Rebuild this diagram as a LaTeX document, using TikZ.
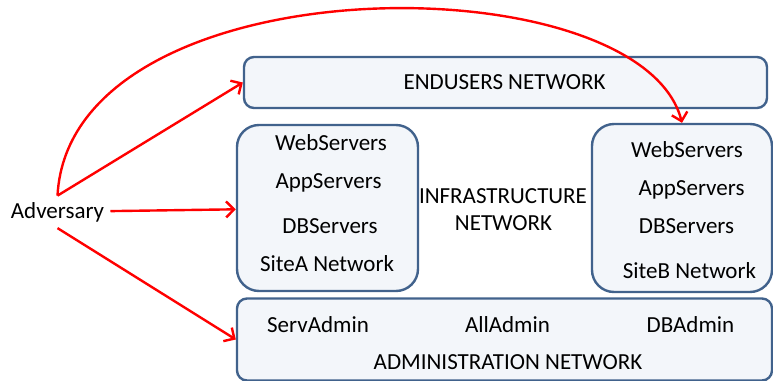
\documentclass[tikz,border=0pt]{standalone}
\usepackage{fontspec}
\setmainfont{Carlito}
\usetikzlibrary{arrows.meta}
\definecolor{netborder}{RGB}{65,98,140}
\definecolor{netfill}{RGB}{243,246,250}
\definecolor{attack}{RGB}{255,0,0}
\begin{document}
\begin{tikzpicture}[x=0.5pt, y=-0.5pt, >={Straight Barb[length=4pt,width=8pt]},
    net/.style = {draw=netborder, fill=netfill, line width=1.2pt, rounded corners=5pt},
    site/.style = {net, rounded corners=11pt},
    lbl/.style = {anchor=base, inner sep=0pt, font=\fontsize{11.5}{13}\selectfont},
    atk/.style = {draw=attack, line width=1.2pt}]
    \useasboundingbox (0,0) rectangle (773,381);
    % Disegna le reti
    \node[net, minimum width=261.5pt, minimum height=25.5pt] (enduser) at (505.5,82.5) {};
    \node[site, minimum width=90.5pt, minimum height=83pt] (siteA) at (327.5,208) {};
    \node[site, minimum width=90pt, minimum height=84pt] (siteB) at (682,208) {};
    \node[net, minimum width=267.5pt, minimum height=41pt] (admin) at (504.5,339.5) {};

    \node[lbl] (endlbl) at (504.5,89) {ENDUSERS NETWORK};

    \node[lbl] (webA) at (331,150) {WebServers};
    \node[lbl] (appA) at (328.5,188) {AppServers};
    \node[lbl] (dbA) at (330,233) {DBServers};
    \node[lbl] (nameA) at (327,271) {SiteA Network};

    \node[lbl] (infra1) at (503,203) {INFRASTRUCTURE};
    \node[lbl] (infra2) at (503.5,230) {NETWORK};

    \node[lbl] (webB) at (687,157) {WebServers};
    \node[lbl] (appB) at (691.5,195) {AppServers};
    \node[lbl] (dbB) at (686.5,233) {DBServers};
    \node[lbl] (nameB) at (689.5,278) {SiteB Network};

    \node[lbl] (servadm) at (318,332) {ServAdmin};
    \node[lbl] (alladm) at (507.5,332) {AllAdmin};
    \node[lbl] (dbadm) at (690.5,332) {DBAdmin};
    \node[lbl] (admlbl) at (508,369) {ADMINISTRATION NETWORK};

    \node[lbl, inner sep=3pt] (adv) at (57.5,218) {Adversary};

    \draw[atk, ->] (adv) -- (siteA);
    \draw[atk, ->] (adv.north) -- (enduser.west);
    \draw[atk, ->] (adv.south) -- (admin.west);
    \draw[atk, ->] (adv.north) .. controls (70,-40) and (640,-40) .. (siteB.north);

\end{tikzpicture}
\end{document}
